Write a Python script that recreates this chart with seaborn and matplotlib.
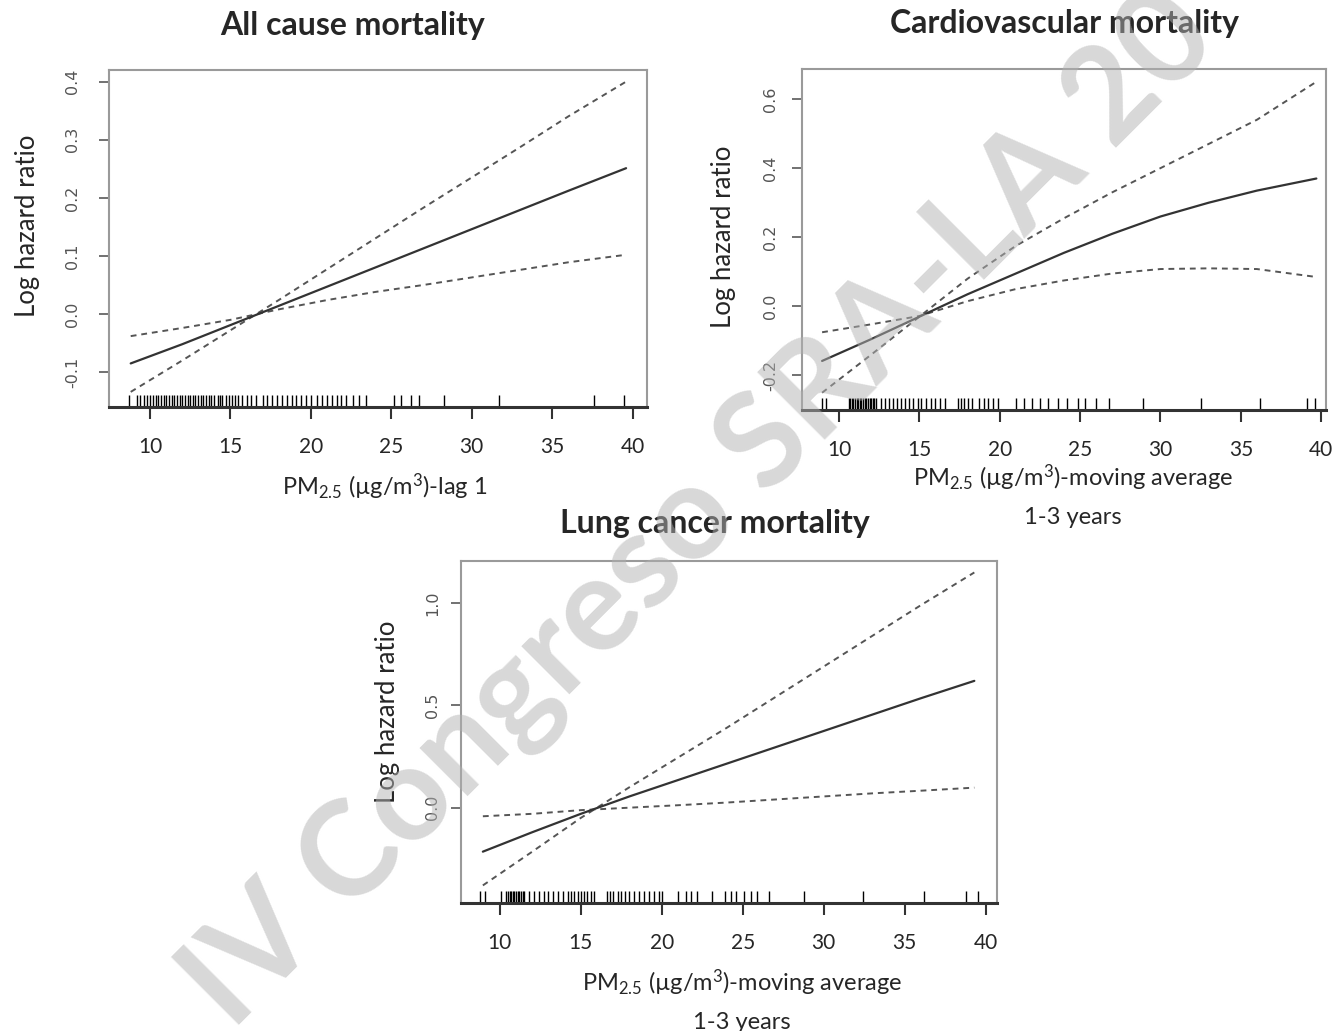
import numpy as np
import pandas as pd
import matplotlib
matplotlib.use("Agg")
import matplotlib.pyplot as plt
import seaborn as sns

# --- values ---
x_all = [8.8, 12, 15, 18, 21, 24, 27, 30, 33, 36, 39.6]
fit_all = [-0.085, -0.052, -0.019, 0.014, 0.047, 0.080, 0.113, 0.146, 0.179, 0.212, 0.251]
upper_all = [-0.134, -0.080, -0.028, 0.024, 0.077, 0.130, 0.183, 0.235, 0.287, 0.340, 0.400]
lower_all = [-0.038, -0.024, -0.010, 0.008, 0.024, 0.038, 0.050, 0.063, 0.076, 0.089, 0.102]

x_cv = [8.95, 12, 15, 18, 21, 24, 27, 30, 33, 36, 39.7]
fit_cv = [-0.158, -0.095, -0.030, 0.035, 0.095, 0.155, 0.210, 0.260, 0.300, 0.335, 0.370]
upper_cv = [-0.250, -0.140, -0.030, 0.080, 0.175, 0.255, 0.330, 0.400, 0.470, 0.540, 0.650]
lower_cv = [-0.075, -0.052, -0.028, 0.015, 0.050, 0.075, 0.095, 0.108, 0.110, 0.108, 0.085]

x_lung = [8.95, 12, 15, 18, 21, 24, 27, 30, 33, 36, 39.3]
fit_lung = [-0.215, -0.120, -0.030, 0.055, 0.135, 0.215, 0.295, 0.375, 0.455, 0.535, 0.620]
upper_lung = [-0.380, -0.215, -0.050, 0.100, 0.245, 0.390, 0.540, 0.690, 0.840, 0.990, 1.150]
lower_lung = [-0.042, -0.030, -0.012, 0.000, 0.012, 0.025, 0.040, 0.055, 0.070, 0.083, 0.098]

rug_all = [8.7, 9.2, 9.4, 9.6, 9.8, 10.0, 10.2, 10.35, 10.5, 10.7, 10.85, 11.0, 11.2,
           11.35, 11.5, 11.7, 11.85, 12.0, 12.2, 12.35, 12.5, 12.65, 12.8, 13.0, 13.15,
           13.3, 13.5, 13.65, 13.8, 14.0, 14.2, 14.35, 14.5, 14.7, 14.9, 15.1, 15.3, 15.5,
           15.7, 16.0, 16.3, 16.6, 17.0, 17.3, 17.6, 17.9, 18.2, 18.5, 18.8, 19.1, 19.4,
           19.7, 20.0, 20.4, 20.7, 21.0, 21.3, 21.6, 21.9, 22.2, 22.6, 23.0, 23.4, 25.2,
           25.6, 26.2, 26.7, 28.3, 31.7, 37.6, 39.5]
rug_cv = [8.95, 9.2, 10.6, 10.7, 10.8, 10.9, 11.0, 11.1, 11.2, 11.3, 11.4, 11.5, 11.6,
          11.7, 11.8, 11.9, 12.0, 12.1, 12.2, 12.3, 12.6, 12.85, 13.1, 13.35, 13.6, 13.85,
          14.1, 14.35, 14.6, 14.9, 15.1, 15.4, 15.7, 16.0, 16.3, 16.6, 17.4, 17.6, 17.8,
          18.0, 18.3, 18.7, 19.0, 19.3, 19.6, 19.9, 21.0, 21.5, 22.0, 22.5, 23.0, 23.6,
          24.2, 24.9, 25.3, 26.0, 26.8, 28.9, 32.5, 36.2, 39.1, 39.6]
rug_lung = [8.8, 9.1, 10.05, 10.4, 10.5, 10.6, 10.7, 10.8, 10.9, 11.0, 11.1, 11.2, 11.3,
            11.4, 11.5, 11.8, 12.1, 12.4, 12.7, 13.0, 13.3, 13.6, 13.9, 14.2, 14.4, 14.6,
            14.8, 15.0, 15.2, 15.4, 15.6, 15.8, 16.6, 16.8, 17.0, 17.3, 17.5, 17.7, 18.0,
            18.3, 18.6, 18.9, 19.2, 19.5, 19.8, 20.0, 21.0, 21.5, 21.8, 22.2, 23.1, 23.9,
            24.3, 24.6, 25.1, 25.5, 25.9, 26.6, 28.8, 32.4, 36.2, 38.8, 39.5]

x_ticks = [10, 15, 20, 25, 30, 35, 40]
y_ticks_all = [-0.1, 0.0, 0.1, 0.2, 0.3, 0.4]
y_ticks_cv = [-0.2, 0.0, 0.2, 0.4, 0.6]
y_ticks_lung = [0.0, 0.5, 1.0]

titles = ["All cause mortality", "Cardiovascular mortality", "Lung cancer mortality"]
xlabels = ["PM$_{2.5}$ (µg/m$^{3}$)-lag 1",
           "PM$_{2.5}$ (µg/m$^{3}$)-moving average\n1-3 years",
           "PM$_{2.5}$ (µg/m$^{3}$)-moving average\n1-3 years"]
ylabel = "Log hazard ratio"
watermark = "IV Congreso SRA-LA 20"

sns.set_style("white")
plt.rcParams['font.family'] = ['Lato', 'DejaVu Sans']
plt.rcParams['mathtext.fontset'] = 'custom'
plt.rcParams['mathtext.rm'] = 'Lato'
plt.rcParams['mathtext.it'] = 'Lato:italic'
plt.rcParams['mathtext.bf'] = 'Lato:bold'

W, H = 1342, 1031
fig = plt.figure(figsize=(W / 100, H / 100), dpi=100)


def px_axes(x0, y0, x1, y1):
    # pixel box (top-left origin) -> figure axes
    return fig.add_axes([x0 / W, 1 - y1 / H, (x1 - x0) / W, (y1 - y0) / H])


panels = [
    dict(box=(109, 70, 647, 407), xlim=(7.45, 40.9), ylim=(-0.16, 0.42),
         x=x_all, fit=fit_all, up=upper_all, lo=lower_all, rug=rug_all, yt=y_ticks_all,
         ytl=["-0.1", "0.0", "0.1", "0.2", "0.3", "0.4"], ypad=14,
         title_xy=(0.4535, 1.133), xlab_xy=(0.513, -0.19), ylab_xy=(-0.152, 0.537)),
    dict(box=(802, 69, 1326, 410), xlim=(7.7, 40.3), ylim=(-0.30, 0.687),
         x=x_cv, fit=fit_cv, up=upper_cv, lo=lower_cv, rug=rug_cv, yt=y_ticks_cv,
         ytl=["-0.2", "0.0", "0.2", "0.4", "0.6"], ypad=10,
         title_xy=(0.5, 1.132), xlab_xy=(0.517, -0.155), ylab_xy=(-0.149, 0.507)),
    dict(box=(461, 561, 997, 903), xlim=(7.6, 40.7), ylim=(-0.466, 1.206),
         x=x_lung, fit=fit_lung, up=upper_lung, lo=lower_lung, rug=rug_lung, yt=y_ticks_lung,
         ytl=["0.0", "0.5", "1.0"], ypad=8,
         title_xy=(0.474, 1.11), xlab_xy=(0.524, -0.19), ylab_xy=(-0.138, 0.558)),
]

for p, title, xlab in zip(panels, titles, xlabels):
    ax = px_axes(*p['box'])
    sns.lineplot(x=p['x'], y=p['up'], ax=ax, color='#555555', lw=1.4,
                 linestyle=(0, (3, 2.5)))
    sns.lineplot(x=p['x'], y=p['lo'], ax=ax, color='#555555', lw=1.4,
                 linestyle=(0, (3, 2.5)))
    sns.lineplot(x=p['x'], y=p['fit'], ax=ax, color='#333333', lw=1.6)
    sns.rugplot(x=p['rug'], ax=ax, height=0.036, color='black', lw=2.0, clip_on=False)

    ax.set_xlim(*p['xlim'])
    ax.set_ylim(*p['ylim'])
    ax.set_xticks(x_ticks)
    ax.set_xticklabels([str(t) for t in x_ticks], fontsize=15)
    ax.set_yticks(p['yt'])
    ax.set_yticklabels(p['ytl'], rotation=90, fontsize=11.5, color='#555555',
                       family='DejaVu Sans', va='center')
    ax.tick_params(axis='x', direction='out', length=8.6, width=1.5, color='#333333',
                   pad=13, bottom=True)
    ax.tick_params(axis='y', direction='out', length=7, width=1.3, color='#666666',
                   pad=p['ypad'], left=True)
    for side in ['left', 'top', 'right']:
        ax.spines[side].set_color('#9a9a9a')
        ax.spines[side].set_linewidth(1.5)
    ax.spines['bottom'].set_color('#333333')
    ax.spines['bottom'].set_linewidth(2.2)

    ax.text(*p['title_xy'], title, transform=ax.transAxes, ha='center', va='center',
            fontsize=23, fontweight='bold')
    ax.text(*p['xlab_xy'], xlab, transform=ax.transAxes, ha='center', va='top',
            fontsize=17, linespacing=1.8)
    ax.text(*p['ylab_xy'], ylabel, transform=ax.transAxes, ha='center', va='center',
            rotation=90, fontsize=18.5)

# watermark laid over the whole figure
fig.text(232 / W, 1 - 1032 / H, watermark, rotation=45, rotation_mode='anchor',
         ha='left', va='baseline', fontsize=95, fontweight='bold',
         color='#b2b2b2', alpha=0.5, zorder=10)

fig.savefig("out.png", dpi=100)
